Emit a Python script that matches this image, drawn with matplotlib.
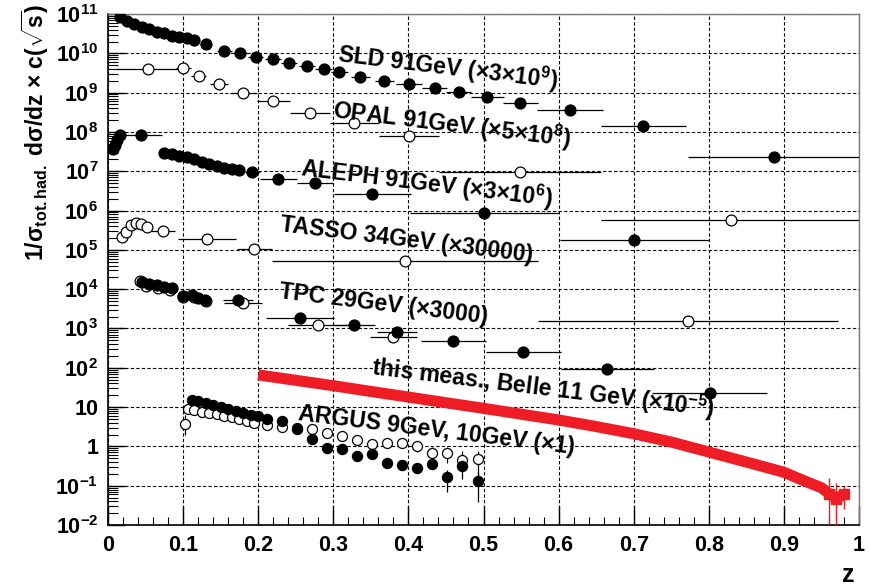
import matplotlib

matplotlib.use("Agg")
import matplotlib.pyplot as plt
import numpy as np
from matplotlib.ticker import FixedLocator, FixedFormatter, LogLocator, MultipleLocator, NullFormatter

plt.rcParams["font.family"] = ["Liberation Sans", "DejaVu Sans"]
plt.rcParams["font.weight"] = "bold"
plt.rcParams["mathtext.fontset"] = "custom"
plt.rcParams["mathtext.rm"] = "Liberation Sans:bold"
plt.rcParams["mathtext.it"] = "Liberation Sans:bold"
plt.rcParams["mathtext.bf"] = "Liberation Sans:bold"
plt.rcParams["mathtext.default"] = "rm"

# ---- SLD 91 GeV (x3e9), filled
sld_z = [0.016, 0.025, 0.035, 0.045, 0.055, 0.065, 0.075, 0.085, 0.095, 0.105, 0.115, 0.13,
         0.155, 0.176, 0.197, 0.22, 0.241, 0.265, 0.287, 0.308, 0.336, 0.368, 0.401, 0.435,
         0.467, 0.505, 0.549, 0.615, 0.713, 0.887]
sld_y = [8.3e10, 6.6e10, 5.6e10, 4.7e10, 4.1e10, 3.5e10, 3.2e10, 2.8e10, 2.6e10, 2.4e10, 2.2e10, 1.7e10,
         1.15e10, 1.0e10, 8.1e9, 7.1e9, 5.6e9, 4.8e9, 4.0e9, 3.3e9, 2.5e9, 2.0e9, 1.66e9, 1.32e9,
         1.05e9, 7.8e8, 5.5e8, 3.6e8, 1.4e8, 2.3e7]
sld_xe = [0.005] * 11 + [0.007, 0.01, 0.01, 0.01, 0.011, 0.011, 0.011, 0.011, 0.011, 0.013, 0.013,
                         0.017, 0.017, 0.017, 0.022, 0.023, 0.044, 0.056, 0.115]

# ---- OPAL 91 GeV (x5e8), open
opal_z = [0.053, 0.1, 0.121, 0.148, 0.18, 0.22, 0.269, 0.328, 0.401, 0.549, 0.829]
opal_y = [4.0e9, 4.3e9, 2.6e9, 1.66e9, 9.8e8, 6.2e8, 3.0e8, 1.7e8, 7.9e7, 9.5e6, 5.8e5]
opal_xe = [0.041, 0.01, 0.01, 0.012, 0.018, 0.022, 0.027, 0.033, 0.04, 0.108, 0.172]

# ---- ALEPH 91 GeV (x3e6), filled
aleph_z = [0.007, 0.009, 0.012, 0.016, 0.044, 0.075, 0.085, 0.095, 0.105, 0.115, 0.125, 0.135,
           0.145, 0.155, 0.165, 0.175, 0.192, 0.227, 0.276, 0.352, 0.501, 0.701]
aleph_y = [3.6e7, 4.7e7, 6.2e7, 8.3e7, 8.3e7, 3.0e7, 2.75e7, 2.45e7, 2.24e7, 2.0e7, 1.7e7, 1.55e7,
           1.4e7, 1.23e7, 1.15e7, 1.05e7, 9.5e6, 6.3e6, 5.0e6, 2.6e6, 8.7e5, 1.8e5]
aleph_xe = [0.002, 0.002, 0.002, 0.002, 0.028] + [0.005] * 11 + [0.01, 0.025, 0.024, 0.051, 0.099, 0.099]

# ---- TASSO 34 GeV (x30000), open
tasso_z = [0.019, 0.024, 0.031, 0.037, 0.044, 0.052, 0.073, 0.132, 0.195, 0.395, 0.772]
tasso_y = [2.1e5, 2.8e5, 4.3e5, 4.8e5, 4.6e5, 3.8e5, 3.0e5, 1.86e5, 1.05e5, 5.1e4, 1.55e3]
tasso_xe = [0.003, 0.003, 0.003, 0.003, 0.004, 0.004, 0.016, 0.039, 0.023, 0.177, 0.2]

# ---- TPC 29 GeV (x3000), filled and open
tpc_f_z = [0.045, 0.055, 0.065, 0.075, 0.085, 0.1, 0.112, 0.12, 0.129, 0.173, 0.256, 0.328,
           0.385, 0.46, 0.553, 0.665, 0.801]
tpc_f_y = [1.5e4, 1.38e4, 1.26e4, 1.15e4, 1.07e4, 6.6e3, 7.1e3, 5.9e3, 5.2e3, 5.2e3, 1.8e3, 1.23e3,
           8.1e2, 4.8e2, 2.5e2, 93, 23]
tpc_f_xe = [0.005] * 9 + [0.02, 0.045, 0.027, 0.027, 0.043, 0.05, 0.062, 0.076]
tpc_o_z = [0.043, 0.05, 0.066, 0.082, 0.1, 0.115, 0.13, 0.18, 0.279, 0.38]
tpc_o_y = [1.66e4, 1.2e4, 1.07e4, 9.5e3, 6.3e3, 6.3e3, 5.0e3, 4.5e3, 1.23e3, 6.0e2]
tpc_o_xe = [0.005] * 7 + [0.025, 0.04, 0.031]

# ---- this measurement, Belle 11 GeV (x1e-5)
belle_z = [0.2, 0.25, 0.3, 0.35, 0.4, 0.45, 0.5, 0.55, 0.6, 0.65, 0.7, 0.75, 0.8, 0.85,
           0.9, 0.93, 0.95, 0.96, 0.97, 0.98]
belle_y = [66, 48, 35, 25, 18, 12.9, 9.3, 6.6, 4.7, 3.2, 2.1, 1.29, 0.72, 0.40,
           0.22, 0.126, 0.089, 0.063, 0.047, 0.060]
belle_end_z = [0.96, 0.97, 0.98]
belle_end_y = [0.063, 0.047, 0.060]
belle_end_lo = [0.008, 0.005, 0.025]
belle_end_hi = [0.16, 0.12, 0.10]

# ---- ARGUS 9 GeV, 10 GeV (x1), filled and open
argus_f_z = [0.112, 0.12, 0.13, 0.14, 0.15, 0.16, 0.17, 0.18, 0.19, 0.2, 0.212, 0.232, 0.252,
             0.271, 0.292, 0.312, 0.331, 0.352, 0.371, 0.392, 0.412, 0.432, 0.452, 0.471, 0.492]
argus_f_y = [15.1, 14.1, 12.6, 11.2, 10.0, 8.9, 7.9, 7.1, 6.3, 5.8, 4.9, 4.4, 2.75,
             1.55, 0.91, 0.85, 0.56, 0.63, 0.38, 0.33, 0.28, 0.35, 0.166, 0.32, 0.13]
argus_f_lo = [0.8] * 10 + [0.3, 0.3, 0.25, 0.25, 0.12, 0.12, 0.1, 0.1, 0.08, 0.08, 0.07, 0.08,
                           0.097, 0.08, 0.092]
argus_f_hi = [0.8] * 10 + [0.3, 0.3, 0.3, 0.3, 0.15, 0.15, 0.12, 0.12, 0.1, 0.1, 0.09, 0.1,
                           0.084, 0.1, 0.09]
argus_o_z = [0.103, 0.107, 0.115, 0.125, 0.135, 0.145, 0.155, 0.165, 0.175, 0.185, 0.195,
             0.212, 0.232, 0.252, 0.271, 0.292, 0.312, 0.331, 0.352, 0.371, 0.392, 0.412,
             0.432, 0.452, 0.471, 0.492]
argus_o_y = [3.7, 8.9, 8.3, 7.6, 7.1, 6.6, 6.0, 5.5, 5.0, 4.5, 4.0,
             3.5, 3.1, 2.95, 2.8, 2.2, 1.8, 1.45, 1.15, 1.2, 1.2, 1.0,
             0.68, 0.68, 0.45, 0.47]
argus_o_lo = [1.75] + [0.3] * 25
argus_o_hi = [2.6] + [0.3] * 25

# ---- labels
labels = ["SLD 91GeV (×3×10$^{9}$)", "OPAL 91GeV (×5×10$^{8}$)", "ALEPH 91GeV (×3×10$^{6}$)",
          "TASSO 34GeV (×30000)", "TPC 29GeV (×3000)", "this meas., Belle 11 GeV (×10$^{-5}$)",
          "ARGUS 9GeV, 10GeV (×1)"]
label_z = [0.452, 0.457, 0.424, 0.397, 0.367, 0.579, 0.437]
label_y = [4.3e9, 1.5e8, 5.0e6, 1.8e5, 4.0e3, 30, 2.6]

ytick_vals = [1e-2, 1e-1, 1, 10, 1e2, 1e3, 1e4, 1e5, 1e6, 1e7, 1e8, 1e9, 1e10, 1e11]
ytick_labels = ["10$^{-2}$", "10$^{-1}$", "1", "10", "10$^{2}$", "10$^{3}$", "10$^{4}$", "10$^{5}$",
                "10$^{6}$", "10$^{7}$", "10$^{8}$", "10$^{9}$", "10$^{10}$", "10$^{11}$"]
xtick_vals = [0, 0.1, 0.2, 0.3, 0.4, 0.5, 0.6, 0.7, 0.8, 0.9, 1.0]
xtick_labels = ["0", "0.1", "0.2", "0.3", "0.4", "0.5", "0.6", "0.7", "0.8", "0.9", "1"]


def filled(ax, z, y, xe, yerr=None, ms=7.8):
    ax.errorbar(z, y, xerr=xe, yerr=yerr, fmt="o", ms=ms, mfc="black", mec="black",
                ecolor="black", elinewidth=0.9, capsize=0, zorder=4)


def hollow(ax, z, y, xe, yerr=None, ms=7.8):
    ax.errorbar(z, y, xerr=xe, yerr=yerr, fmt="o", ms=ms, mfc="white", mec="black", mew=0.9,
                ecolor="black", elinewidth=0.9, capsize=0, zorder=4)


fig = plt.figure(figsize=(8.69, 5.87), dpi=100)
ax = fig.add_axes([0.1243, 0.1056, 0.8642, 0.8705])
ax.set_yscale("log")
ax.set_xlim(0, 1)
ax.set_ylim(1e-2, 1e11)

filled(ax, sld_z, sld_y, sld_xe)
hollow(ax, opal_z, opal_y, opal_xe)
filled(ax, aleph_z, aleph_y, aleph_xe)
hollow(ax, tasso_z, tasso_y, tasso_xe)
hollow(ax, tpc_o_z, tpc_o_y, tpc_o_xe)
filled(ax, tpc_f_z, tpc_f_y, tpc_f_xe)
hollow(ax, argus_o_z, argus_o_y, 0, yerr=[argus_o_lo, argus_o_hi], ms=7.2)
filled(ax, argus_f_z, argus_f_y, 0, yerr=[argus_f_lo, argus_f_hi], ms=7.2)

# Belle band
ax.plot(belle_z, belle_y, color="#ee1c25", lw=8, solid_capstyle="butt", zorder=5)
ax.errorbar(belle_end_z, belle_end_y, yerr=[np.array(belle_end_y) - np.array(belle_end_lo),
                                            np.array(belle_end_hi) - np.array(belle_end_y)],
            fmt="s", ms=7.5, color="#ee1c25", elinewidth=1, capsize=0, zorder=5)

for txt, lz, ly in zip(labels, label_z, label_y):
    ax.text(lz, ly, txt, fontsize=16.6, fontweight="bold", rotation=-7, ha="center", va="center",
            rotation_mode="anchor", zorder=6)

# axes styling (ROOT-like)
ax.yaxis.set_major_locator(FixedLocator(ytick_vals))
ax.yaxis.set_major_formatter(FixedFormatter(ytick_labels))
ax.yaxis.set_minor_locator(LogLocator(base=10, subs=np.arange(2, 10), numticks=100))
ax.yaxis.set_minor_formatter(NullFormatter())
ax.xaxis.set_major_locator(FixedLocator(xtick_vals))
ax.xaxis.set_major_formatter(FixedFormatter(xtick_labels))
ax.xaxis.set_minor_locator(MultipleLocator(0.02))
ax.tick_params(which="both", direction="in", top=False, right=False, labelsize=15.5, pad=7)
ax.tick_params(axis="y", which="major", length=12, width=1)
ax.tick_params(axis="y", which="minor", length=7, width=0.8)
ax.tick_params(axis="x", which="major", length=14, width=1)
ax.tick_params(axis="x", which="minor", length=6, width=0.8)
for lab in ax.get_xticklabels() + ax.get_yticklabels():
    lab.set_fontweight("bold")

ax.grid(True, which="major", color="black", lw=0.8, ls=(0, (3, 2)), zorder=0)
ax.set_axisbelow(True)
for s in ["top", "right"]:
    ax.spines[s].set_color("#777777")
    ax.spines[s].set_linewidth(1)
ax.spines["left"].set_linewidth(1.2)
ax.spines["bottom"].set_linewidth(1.2)

ax.text(-0.097, 1.02, "1/σ$_{tot.had.}$ dσ/dz × c($\\sqrt{s}$)", transform=ax.transAxes,
        rotation=90, ha="center", va="top", fontsize=16.5, fontweight="bold")
fig.text(848 / 869, 1 - 575 / 587, "z", ha="center", va="center", fontsize=18, fontweight="bold")

fig.savefig("out.png", dpi=100)
